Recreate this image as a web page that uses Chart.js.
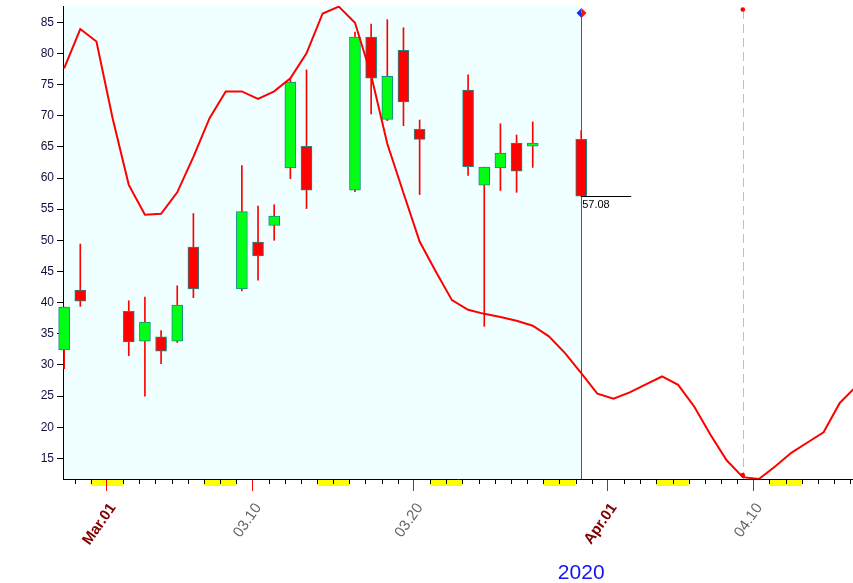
<!DOCTYPE html>
<html lang="en">
<head>
    <meta charset="utf-8">
    <title>Candles</title>
    <script src="https://cdn.jsdelivr.net/npm/chart.js"></script>
    <style>
        html, body { margin: 0; padding: 0; background: #fff; }
        #wrap { width: 853px; height: 583px; }
    </style>
</head>
<body>
<div id="wrap"><canvas id="chart" width="853" height="583"></canvas></div>

<script>
    // trading days (2020) and OHLC
    var candleDates = ["02-27", "02-28", "03-02", "03-03", "03-04", "03-05", "03-06",
        "03-09", "03-10", "03-11", "03-12", "03-13", "03-16", "03-17", "03-18", "03-19", "03-20",
        "03-23", "03-24", "03-25", "03-26", "03-27", "03-30"];
    var openVals  = [32.4, 42.0, 38.6, 33.8, 34.5, 33.8, 48.9, 42.2, 49.7, 52.4, 61.6, 65.1, 58.05, 82.6, 69.4, 80.5, 67.8, 74.1, 58.85, 61.6, 65.6, 65.1, 66.2];
    var closeVals = [39.3, 40.25, 33.7, 36.9, 32.2, 39.6, 42.2, 54.6, 47.5, 53.9, 75.4, 58.05, 82.6, 76.0, 76.3, 72.2, 66.2, 61.8, 61.75, 64.0, 61.1, 65.6, 57.08];
    var highVals  = [39.3, 49.4, 40.3, 40.9, 35.5, 42.7, 54.3, 62.0, 55.5, 55.7, 76.0, 77.35, 83.4, 84.7, 85.4, 84.1, 69.3, 76.55, 61.75, 68.7, 66.9, 69.0, 67.6];
    var lowVals   = [29.4, 39.4, 31.5, 25.0, 30.2, 33.6, 40.8, 41.9, 43.6, 50.0, 59.9, 55.1, 57.8, 70.3, 69.2, 68.4, 57.35, 60.4, 36.2, 58.0, 57.7, 61.7, 57.08];

    // red indicator line, one value per calendar day from 02-27 to 04-16
    var lineStart = "02-27";
    var lineVals = [77.6, 83.9, 81.9,
        69.6, 58.9, 54.1, 54.25, 57.7, 63.4, 69.6, 73.9, 73.9, 72.7,
        73.9, 76.0, 80.0, 86.4, 87.5, 84.9, 76.5, 65.5, 57.6, 49.8,
        45.0, 40.4, 38.85, 38.2, 37.7, 37.1, 36.3, 34.6, 31.9, 28.7, 25.4,
        24.6, 25.6, 26.9, 28.15, 26.8, 23.3, 18.8, 14.7, 12.0, 11.7, 13.7, 15.9, 17.56, 19.2, 23.9, 26.5];

    var yTicks = [15, 20, 25, 30, 35, 40, 45, 50, 55, 60, 65, 70, 75, 80, 85];
    var xTickLabels = { "03-01": "Mar.01", "03-10": "03.10", "03-20": "03.20", "04-01": "Apr.01", "04-10": "04.10" };
    var monthLabels = ["Mar.01", "Apr.01"];
    var weekends = ["02-29", "03-01", "03-07", "03-08", "03-14", "03-15", "03-21", "03-22",
        "03-28", "03-29", "04-04", "04-05", "04-11", "04-12"];
    var lastClose = 57.08;
    var cursorDate = "03-30";
    var futureDate = "04-09";
    var yearLabel = "2020";

    // day number relative to Mar 1st
    function dayOf(md) {
        var p = md.split("-");
        return (Date.UTC(2020, +p[0] - 1, +p[1]) - Date.UTC(2020, 2, 1)) / 86400000;
    }
    var SHIFT = 0.35; // candles sit a bit to the right of the day tick

    var bodies = [], wicks = [], linePts = [];
    for (var i = 0; i < candleDates.length; i++) {
        var x = dayOf(candleDates[i]) + SHIFT;
        bodies.push({ x: x, y: [openVals[i], closeVals[i]] });
        wicks.push({ x: x, y: [lowVals[i], highVals[i]] });
    }
    var d0 = dayOf(lineStart);
    for (var j = 0; j < lineVals.length; j++) {
        linePts.push({ x: d0 + j + SHIFT, y: lineVals[j] });
    }
    var bodyColors = openVals.map(function(o, k) { return closeVals[k] >= o ? "#00ff14" : "#ff0000"; });

    var xTicks = [];
    for (var t = -2; t <= 46; t++) xTicks.push(t);
    var labelByDay = {};
    Object.keys(xTickLabels).forEach(function(k) { labelByDay[dayOf(k)] = xTickLabels[k]; });

    var decor = {
        id: "decor",
        beforeDraw: function(chart) {
            var c = chart.ctx, a = chart.chartArea, xs = chart.scales.x;
            var xc = xs.getPixelForValue(dayOf(cursorDate) + SHIFT);
            c.save();
            c.fillStyle = "#f0ffff";
            c.fillRect(a.left, a.top, xc - a.left, a.bottom - a.top);
            // weekend blocks under the axis
            c.fillStyle = "#ffff00";
            weekends.forEach(function(w) {
                var x0 = xs.getPixelForValue(dayOf(w)), x1 = xs.getPixelForValue(dayOf(w) + 1);
                c.fillRect(x0, a.bottom, x1 - x0, 7);
            });
            // minor day ticks
            c.strokeStyle = "#000";
            c.lineWidth = 1;
            c.beginPath();
            xTicks.forEach(function(v) {
                if (labelByDay[v]) return;
                var px = Math.round(xs.getPixelForValue(v)) + 0.5;
                c.moveTo(px, a.bottom);
                c.lineTo(px, a.bottom + 5);
            });
            c.stroke();
            c.restore();
        },
        beforeDatasetsDraw: function(chart) {
            var c = chart.ctx, a = chart.chartArea, xs = chart.scales.x;
            var xc = Math.round(xs.getPixelForValue(dayOf(cursorDate) + SHIFT)) + 0.5;
            var xf = Math.round(xs.getPixelForValue(dayOf(futureDate) + SHIFT)) + 0.5;
            c.save();
            c.strokeStyle = "#1f7070";
            c.lineWidth = 1;
            c.beginPath();
            c.moveTo(xc, 13);
            c.lineTo(xc, a.bottom);
            c.stroke();
            c.strokeStyle = "#c0c0c0";
            c.setLineDash([9, 5]);
            c.beginPath();
            c.moveTo(xf, 10);
            c.lineTo(xf, a.bottom);
            c.stroke();
            c.restore();
        },
        afterDatasetsDraw: function(chart) {
            var c = chart.ctx, xs = chart.scales.x, ys = chart.scales.y;
            var xc = xs.getPixelForValue(dayOf(cursorDate) + SHIFT);
            var xf = xs.getPixelForValue(dayOf(futureDate) + SHIFT);
            var yl = Math.round(ys.getPixelForValue(lastClose)) + 0.5;
            c.save();
            c.strokeStyle = "#000";
            c.lineWidth = 1;
            c.beginPath();
            c.moveTo(xc, yl);
            c.lineTo(xc + 50, yl);
            c.stroke();
            c.fillStyle = "#000";
            c.font = "11px 'Liberation Sans', Arial";
            c.textBaseline = "top";
            c.fillText(lastClose.toFixed(2), xc + 1, yl + 3);
            // end dots of the dashed marker
            c.fillStyle = "#ff0000";
            c.beginPath();
            c.arc(xf, 9.5, 2.3, 0, Math.PI * 2);
            c.fill();
            c.beginPath();
            c.arc(xf, ys.getPixelForValue(lineVals[dayOf(futureDate) - d0]) - 2, 2.3, 0, Math.PI * 2);
            c.fill();
            // diamond on the cursor line
            var cx = Math.round(xc) + 0.5, cy = 13;
            c.fillStyle = "#1030ff";
            c.beginPath();
            c.moveTo(cx, cy - 5); c.lineTo(cx - 5, cy); c.lineTo(cx, cy + 5); c.closePath();
            c.fill();
            c.fillStyle = "#ff1010";
            c.beginPath();
            c.moveTo(cx, cy - 5); c.lineTo(cx + 5, cy); c.lineTo(cx, cy + 5); c.closePath();
            c.fill();
            // year under the axis
            c.fillStyle = "#1414f0";
            c.font = "21px 'Liberation Sans', Arial";
            c.textAlign = "center";
            c.textBaseline = "alphabetic";
            c.fillText(yearLabel, xc, 579);
            c.restore();
        }
    };

    var ctx = document.getElementById("chart").getContext("2d");
    var myChart = new Chart(ctx, {
        type: "bar",
        data: {
            datasets: [
                {
                    type: "line",
                    data: linePts,
                    borderColor: "#ff0000",
                    borderWidth: 2,
                    pointRadius: 0,
                    tension: 0,
                    fill: false,
                    order: 0
                },
                {
                    data: bodies,
                    backgroundColor: bodyColors,
                    borderColor: "#158c8c",
                    borderWidth: 1,
                    borderSkipped: false,
                    barThickness: 11,
                    grouped: false,
                    clip: false,
                    order: 1
                },
                {
                    data: wicks,
                    backgroundColor: "#ff0000",
                    borderWidth: 0,
                    barThickness: 1,
                    grouped: false,
                    clip: false,
                    order: 2
                }
            ]
        },
        options: {
            responsive: false,
            animation: false,
            layout: { padding: { top: 6, right: 0, left: 0, bottom: 0 } },
            plugins: {
                legend: { display: false },
                tooltip: { enabled: false }
            },
            scales: {
                x: {
                    type: "linear",
                    offset: false,
                    min: -2.72,
                    max: 46.17,
                    afterFit: function(s) {
                        s.height = 104;
                        s.paddingLeft = 0;
                        s.paddingRight = 0;
                    },
                    afterBuildTicks: function(s) {
                        s.ticks = xTicks.map(function(v) { return { value: v }; });
                    },
                    grid: {
                        offset: false,
                        drawOnChartArea: false,
                        tickLength: 12,
                        tickColor: function(c) {
                            return c.tick && labelByDay[c.tick.value] ? "#ff0000" : "rgba(0,0,0,0)";
                        }
                    },
                    border: { color: "#000", width: 1 },
                    ticks: {
                        autoSkip: false,
                        minRotation: 55,
                        maxRotation: 55,
                        labelOffset: 6,
                        padding: 9,
                        callback: function(v) { return labelByDay[v] || ""; },
                        color: function(c) {
                            var l = labelByDay[c.tick.value];
                            return monthLabels.indexOf(l) >= 0 ? "#800000" : "#666666";
                        },
                        font: function(c) {
                            var l = c.tick ? labelByDay[c.tick.value] : "";
                            return {
                                family: "'Liberation Sans', Arial",
                                size: 15,
                                weight: monthLabels.indexOf(l) >= 0 ? "bold" : "normal"
                            };
                        }
                    }
                },
                y: {
                    min: 11.7,
                    max: 87.6,
                    afterFit: function(s) {
                        s.width = 63;
                        s.paddingTop = 0;
                        s.paddingBottom = 0;
                    },
                    afterBuildTicks: function(s) {
                        s.ticks = yTicks.map(function(v) { return { value: v }; });
                    },
                    grid: {
                        drawOnChartArea: false,
                        tickLength: 6,
                        tickColor: "#000"
                    },
                    border: { color: "#000", width: 1 },
                    ticks: {
                        padding: 3,
                        color: "#101040",
                        font: { family: "'Liberation Sans', Arial", size: 12 }
                    }
                }
            }
        },
        plugins: [decor]
    });
</script>
</body>
</html>
